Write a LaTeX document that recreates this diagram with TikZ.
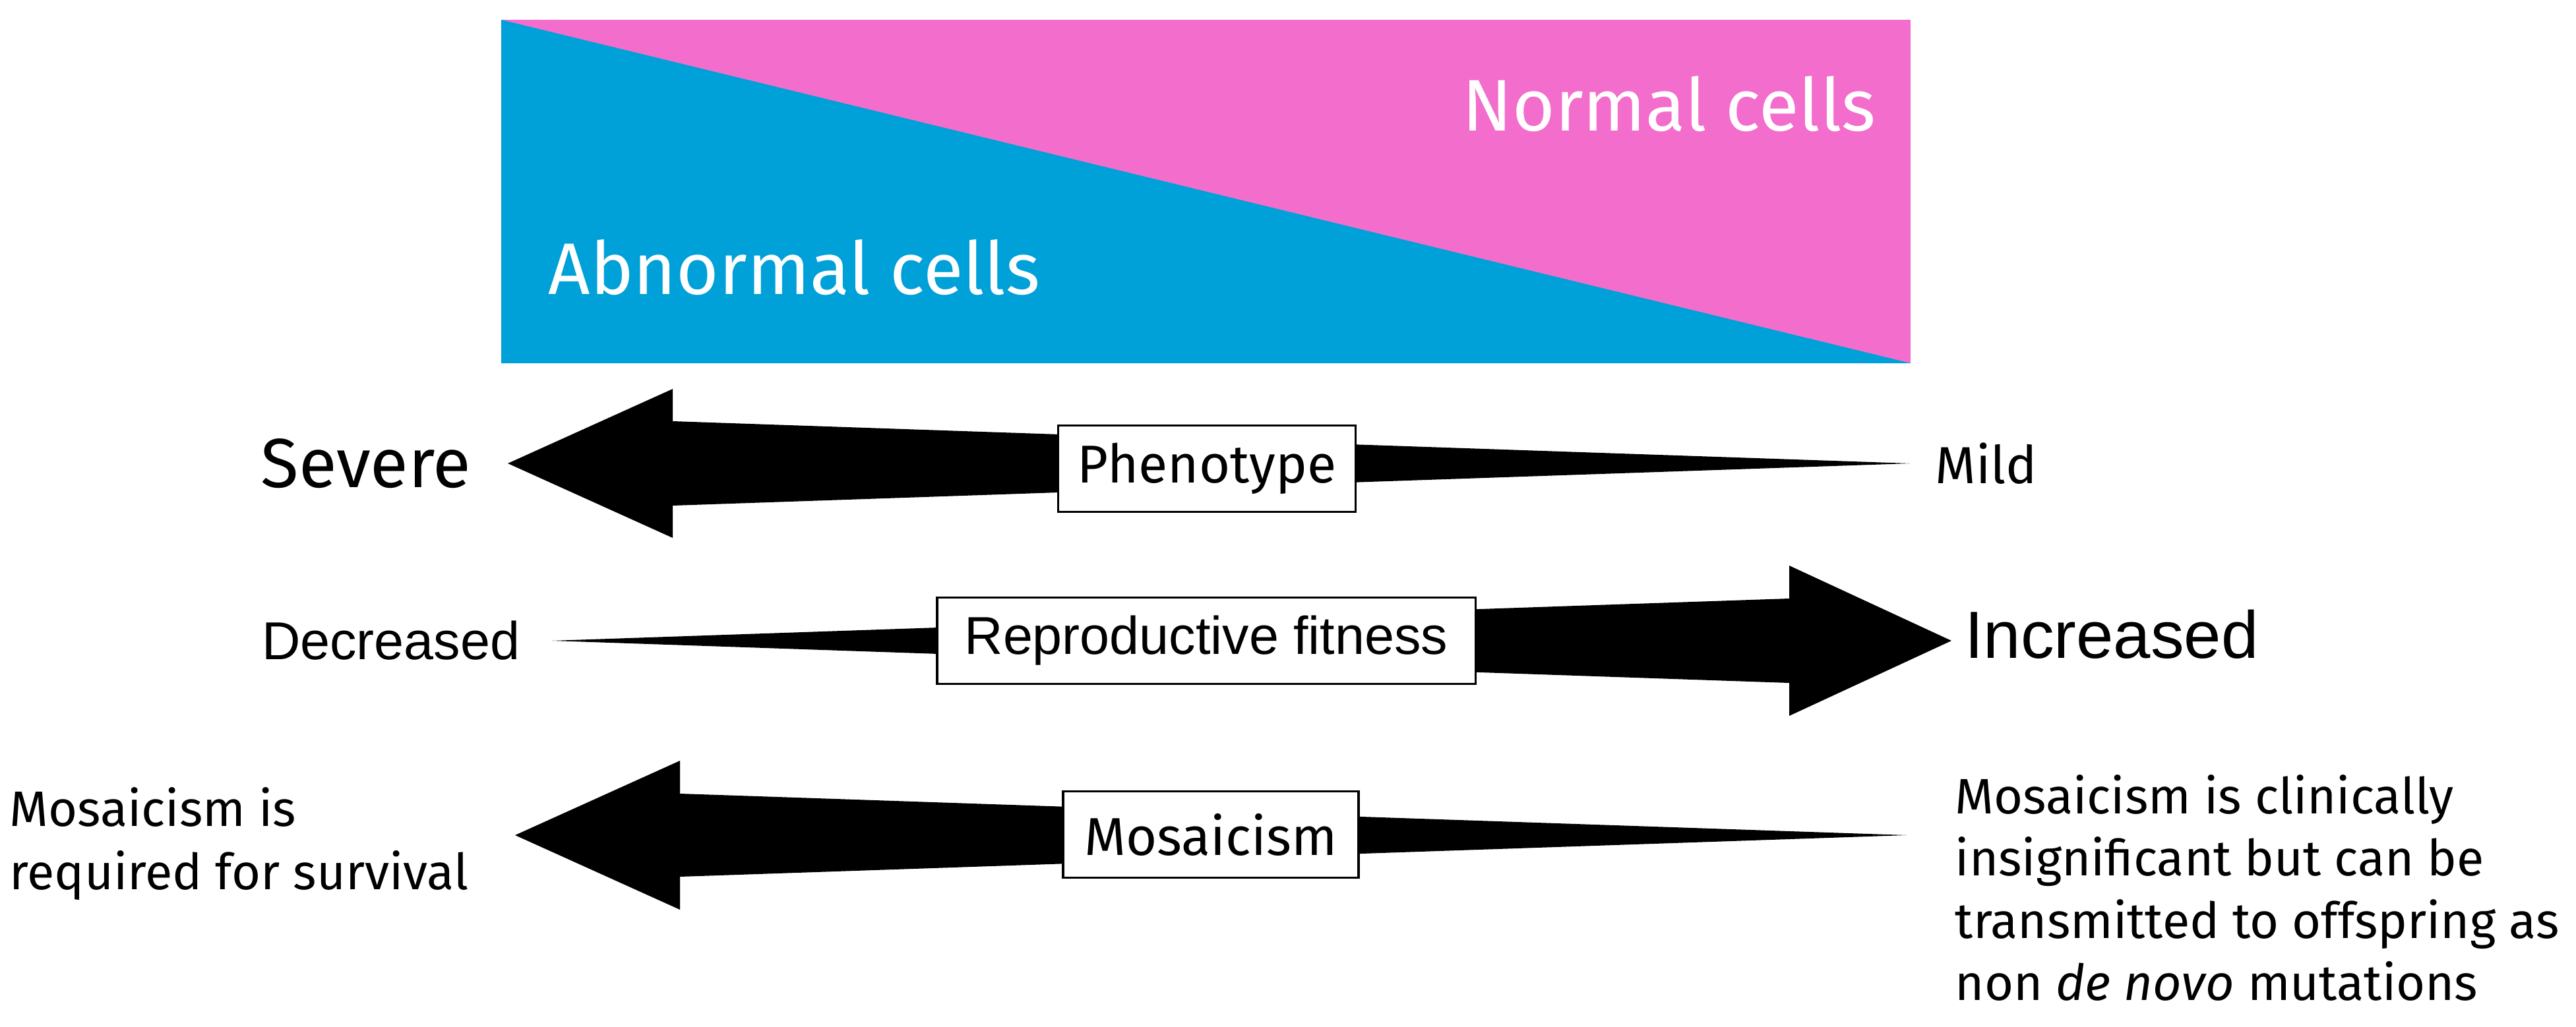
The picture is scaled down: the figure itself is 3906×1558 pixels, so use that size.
\documentclass[tikz,border=0pt]{standalone}
\usepackage{fontspec}
\setmainfont{Fira Sans}
\newfontfamily\arialfont{Liberation Sans}
\usetikzlibrary{positioning,calc}
\definecolor{abncol}{RGB}{0,160,216}
\definecolor{normcol}{RGB}{243,110,204}
\tikzset{
  barbox/.style={draw, fill=white, line width=1pt, minimum height=1.31cm, inner sep=0pt},
  endlabel/.style={inner sep=0pt},
}

\begin{document}
\begin{tikzpicture}[x=0.01cm, y=-0.01cm, node distance=0.5cm]
\useasboundingbox (0,0) rectangle (3906,1558);

% cell proportions
\coordinate (topL) at (760,30);
\coordinate (botR) at (2897,551);
\coordinate (botL) at (760,551);
\fill[normcol] (topL) rectangle (botR);
\fill[abncol] (topL) -- (botR) -- (botL) -- cycle;
\node (normal) [endlabel, anchor=base west, text=white, font=\fontsize{31.5}{38}\selectfont] at (2217,199) {Normal cells};
\node (abnormal) [endlabel, anchor=base west, text=white, font=\fontsize{31.5}{38}\selectfont] at (831,447) {Abnormal cells};

% phenotype
\coordinate (pheTip) at (770,703);
\coordinate (pheTail) at (2896,703);
\fill (pheTail) -- ($(pheTip)+(250,-64)$) -- ($(pheTip)+(250,-113)$) -- (pheTip)
  -- ($(pheTip)+(250,113)$) -- ($(pheTip)+(250,64)$) -- cycle;
\node (phe) [barbox, minimum width=4.51cm, font=\fontsize{23}{28}\selectfont] at (1830,711) {Phenotype};
\node (severe) [endlabel, left=0.55cm of pheTip, font=\fontsize{30}{36}\selectfont] {Severe};
\node (mild) [endlabel, right=0.38cm of pheTail, font=\fontsize{22.5}{27}\selectfont] {Mild};

% reproductive fitness
\coordinate (repTail) at (837,972);
\coordinate (repTip) at (2959,972);
\fill (repTail) -- ($(repTip)+(-246,-64)$) -- ($(repTip)+(-246,-114)$) -- (repTip)
  -- ($(repTip)+(-246,114)$) -- ($(repTip)+(-246,64)$) -- cycle;
\node (rep) [barbox, minimum width=8.16cm, font=\arialfont\fontsize{23}{28}\selectfont] at (1829,972) {Reproductive fitness};
\node (decr) [endlabel, left=0.48cm of repTail, font=\arialfont\fontsize{23}{28}\selectfont] {Decreased};
\node (incr) [endlabel, right=0.2cm of repTip, yshift=0.1cm, font=\arialfont\fontsize{28.8}{34}\selectfont] {Increased};

% mosaicism
\coordinate (mosTip) at (781,1267);
\coordinate (mosTail) at (2891,1267);
\fill (mosTail) -- ($(mosTip)+(250,-63)$) -- ($(mosTip)+(250,-113)$) -- (mosTip)
  -- ($(mosTip)+(250,113)$) -- ($(mosTip)+(250,63)$) -- cycle;
\node (mos) [barbox, minimum width=4.48cm, font=\fontsize{23}{28}\selectfont] at (1836,1266) {Mosaicism};
\node (needed) [endlabel, align=left, left=0.7cm of mosTip, yshift=-0.13cm, font=\fontsize{21.5}{27.2}\selectfont]
  {Mosaicism is\\ required for survival};
\node (passed) [endlabel, align=left, right=0.73cm of mosTail, yshift=-0.8cm, font=\fontsize{21.5}{26.8}\selectfont]
  {Mosaicism is clinically\\ insignificant but can be\\
   transmitted to offspring as\\ non \textit{de novo} mutations};
\end{tikzpicture}
\end{document}
